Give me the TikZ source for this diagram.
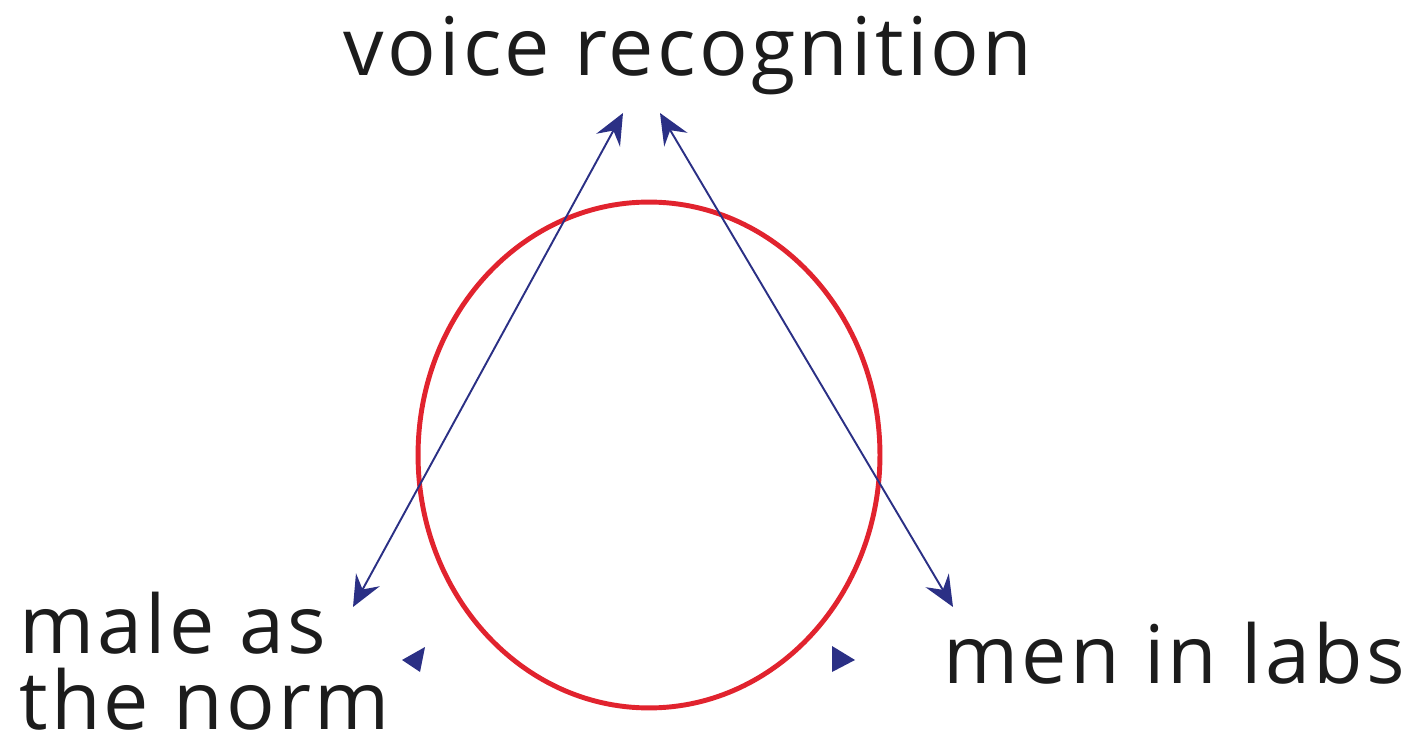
\documentclass[tikz,border=0pt]{standalone}
\usepackage{fontspec}
\setmainfont{Open Sans}[LetterSpace=4]
\usepackage{xcolor}
\usetikzlibrary{arrows.meta}
\definecolor{ringred}{HTML}{E1232E}
\definecolor{linkblue}{HTML}{2B3085}
\definecolor{inkgray}{HTML}{1C1C1C}

\begin{document}
\begin{tikzpicture}[x=0.02cm,y=-0.02cm,
  lbl/.style={text=inkgray,font=\fontsize{46}{42.7}\selectfont,inner sep=0pt,align=left},
  ring/.style={draw=ringred,line width=2.8pt},
  link/.style={draw=linkblue,line width=1.1pt,
    {Stealth[length=6.2mm,width=5.4mm,inset=2.2mm]}-{Stealth[length=6.2mm,width=5.4mm,inset=2.2mm]}},
  stub/.style={fill=linkblue}]
  \useasboundingbox (0,0) rectangle (1409,739);
  % labels
  \node[lbl,anchor=base] (voice) at (688,76) {voice recognition};
  \node[lbl,anchor=base west,text depth=0pt] (male) at (19,729) {male as\\the norm};
  \node[lbl,anchor=base west] (labs) at (943,683) {men in labs};
  % the circle
  \draw[ring] (649,455) ellipse [x radius=4.62cm,y radius=5.06cm];
  % arrow ends
  \coordinate (voiceL) at (623,113);
  \coordinate (voiceR) at (660,113);
  \coordinate (maleE) at (353,607);
  \coordinate (labsE) at (953,607);
  \draw[link] (maleE) -- (voiceL);
  \draw[link] (voiceR) -- (labsE);
  % loose tips at the bottom
  \fill[stub] (402,660) -- (425,647) -- (420,672) -- cycle;
  \fill[stub] (855,660) -- (832,646) -- (832,672) -- cycle;
\end{tikzpicture}
\end{document}
